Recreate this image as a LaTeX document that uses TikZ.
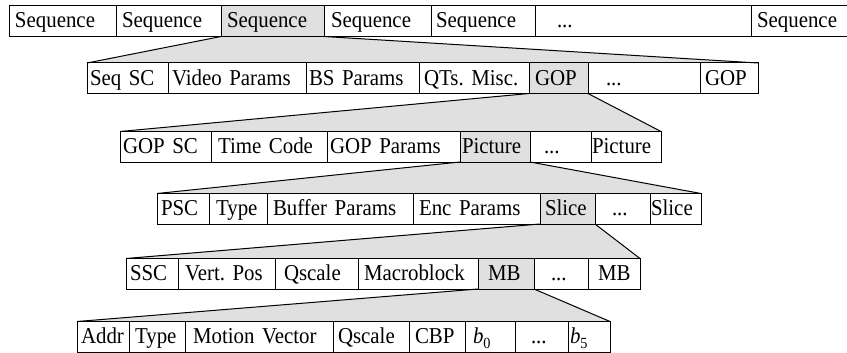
\documentclass[tikz,border=0pt]{standalone}
\usepackage{fontspec}
\setmainfont{Liberation Serif}[FakeStretch=0.92]
\usetikzlibrary{backgrounds}
\definecolor{zoomgray}{HTML}{E0E0E0}
\frenchspacing

% cell font with slightly tighter word spacing
\newcommand\cellfont{\fontsize{22.7}{26}\selectfont\fontdimen2\font=3.8pt\fontdimen3\font=0pt\fontdimen4\font=0pt}

\tikzset{
  cellbox/.style={draw, line width=1pt, fill=white, inner ysep=0pt, outer sep=0pt,
    minimum height=30.5pt, align=left, text height=13.5pt, text depth=0pt,
    font=\cellfont},
  shaded/.style={fill=zoomgray},
  zoomline/.style={line width=1pt},
  zoomfill/.style={fill=zoomgray}
}

% \mpegcell[style]{name}{left x}{right x}{text indent}{text}
\newcommand\mpegcell[6][]{%
  \pgfmathsetmacro\mpegw{#4-#3}%
  \pgfmathsetmacro\mpegtw{#4-#3-2*#5}%
  \node[cellbox,#1,minimum width=\mpegw pt,text width=\mpegtw pt,
        inner xsep=#5pt,anchor=north west] (#2) at (#3,\rowtop) {#6};}

\newcommand\subb[1]{{\itshape b}\raisebox{-4.5pt}{\fontsize{15.5}{15.5}\selectfont #1}}

\begin{document}
\begin{tikzpicture}[x=1pt,y=-1pt]
\useasboundingbox (0,0) rectangle (847,353);

% sequence layer
\def\rowtop{6}
\mpegcell{seqA}{9}{116}{6}{Sequence}
\mpegcell{seqB}{116}{221}{6}{Sequence}
\mpegcell[shaded]{seqC}{221}{324}{6}{Sequence}
\mpegcell{seqD}{324}{431}{7}{Sequence}
\mpegcell{seqE}{431}{535}{5}{Sequence}
\mpegcell{seqDots}{535}{751}{22}{...}
\mpegcell{seqN}{751}{853}{6}{Sequence}

% sequence header and GOPs
\def\rowtop{63}
\mpegcell{seqsc}{87}{168}{3}{Seq SC}
\mpegcell{vidpar}{168}{306}{4}{Video Params}
\mpegcell{bspar}{306}{419}{3}{BS Params}
\mpegcell{qts}{419}{529}{5}{QTs. Misc.}
\mpegcell[shaded]{gopA}{529}{588}{6}{GOP}
\mpegcell{gopDots}{588}{700}{18}{...}
\mpegcell{gopN}{700}{758}{5}{GOP}

% GOP header and pictures
\def\rowtop{131.5}
\mpegcell{gopsc}{120}{211}{3}{GOP SC}
\mpegcell{tcode}{211}{327}{7}{Time Code}
\mpegcell{goppar}{327}{460}{3}{GOP Params}
\mpegcell[shaded]{picA}{460}{530}{2}{Picture}
\mpegcell{picDots}{530}{591}{14}{...}
\mpegcell{picN}{591}{661}{1}{Picture}

% picture header and slices
\def\rowtop{193.5}
\mpegcell{psc}{157}{209}{4}{PSC}
\mpegcell{ptype}{209}{267}{7}{Type}
\mpegcell{bufpar}{267}{413}{6}{Buffer Params}
\mpegcell{encpar}{413}{540}{6}{Enc Params}
\mpegcell[shaded]{sliceA}{540}{595}{5}{Slice}
\mpegcell{sliceDots}{595}{650}{17}{...}
\mpegcell{sliceN}{650}{701}{1}{Slice}

% slice header and macroblocks
\def\rowtop{258.5}
\mpegcell{ssc}{126}{178}{4}{SSC}
\mpegcell{vpos}{178}{275}{7}{Vert. Pos}
\mpegcell{sqscale}{275}{358}{9}{Qscale}
\mpegcell{mblock}{358}{478}{6}{Macroblock}
\mpegcell[shaded]{mbA}{478}{534}{10}{MB}
\mpegcell{mbDots}{534}{588}{17}{...}
\mpegcell{mbN}{588}{640}{10}{MB}

% macroblock contents
\def\rowtop{321.5}
\mpegcell{addr}{77}{129}{4}{Addr}
\mpegcell{mtype}{129}{185}{6}{Type}
\mpegcell{mvec}{185}{333}{8}{Motion Vector}
\mpegcell{mqscale}{333}{409}{5}{Qscale}
\mpegcell{cbp}{409}{465}{6}{CBP}
\mpegcell{bzero}{465}{515}{8}{\subb{0}}
\mpegcell{bDots}{515}{568}{16}{...}
\mpegcell{bfive}{568}{610}{2}{\subb{5}}

% expansion wedges behind the rows
\begin{pgfonlayer}{background}
\fill[zoomfill] (seqC.south west) -- (seqC.south east) -- (gopN.north east) -- (seqsc.north west) -- cycle;
\fill[zoomfill] (gopA.south west) -- (gopA.south east) -- (picN.north east) -- (gopsc.north west) -- cycle;
\fill[zoomfill] (picA.south west) -- (picA.south east) -- (sliceN.north east) -- (psc.north west) -- cycle;
\fill[zoomfill] (sliceA.south west) -- (sliceA.south east) -- (mbN.north east) -- (ssc.north west) -- cycle;
\fill[zoomfill] (mbA.south west) -- (mbA.south east) -- (bfive.north east) -- (addr.north west) -- cycle;
\end{pgfonlayer}

\draw[zoomline] (seqC.south west) -- (seqsc.north west);
\draw[zoomline] (seqC.south east) -- (gopN.north east);
\draw[zoomline] (gopA.south west) -- (gopsc.north west);
\draw[zoomline] (gopA.south east) -- (picN.north east);
\draw[zoomline] (picA.south west) -- (psc.north west);
\draw[zoomline] (picA.south east) -- (sliceN.north east);
\draw[zoomline] (sliceA.south west) -- (ssc.north west);
\draw[zoomline] (sliceA.south east) -- (mbN.north east);
\draw[zoomline] (mbA.south west) -- (addr.north west);
\draw[zoomline] (mbA.south east) -- (bfive.north east);
\end{tikzpicture}
\end{document}
